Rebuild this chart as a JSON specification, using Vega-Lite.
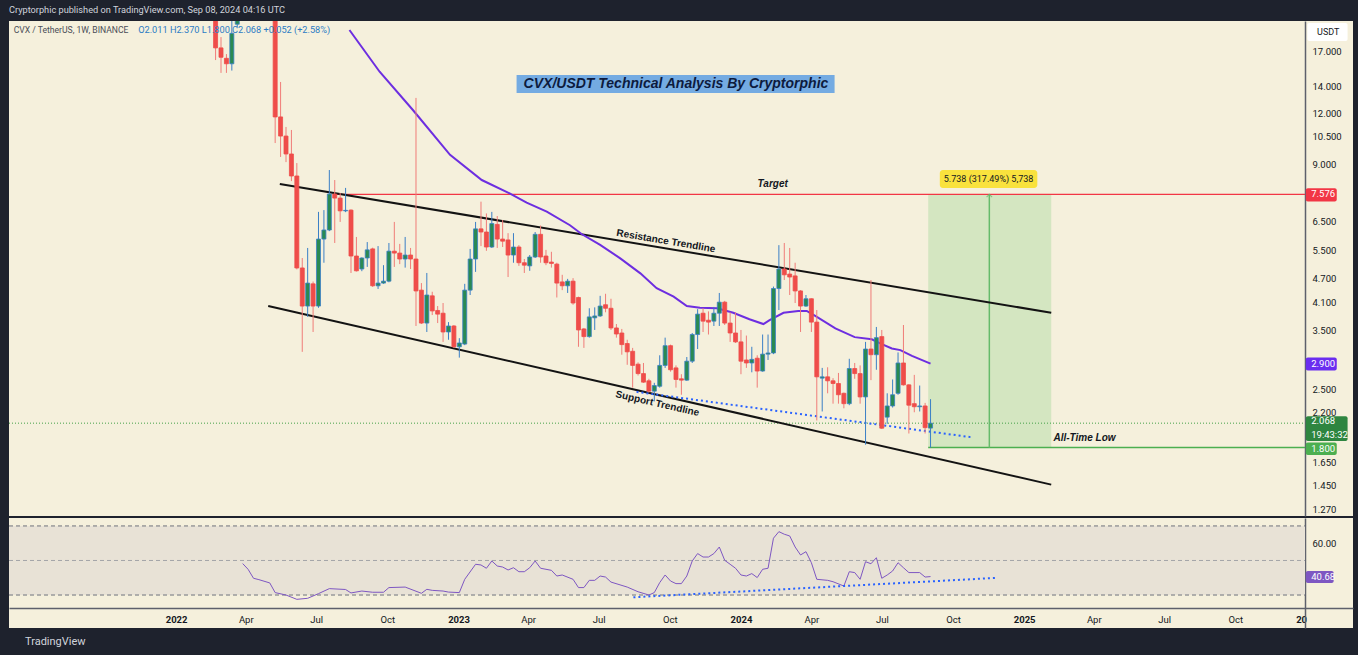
{
"$schema":"https://vega.github.io/schema/vega-lite/v6.json",
"background":"#1e222d",
"padding":{"left":8,"right":6,"top":5,"bottom":8},
"spacing":2,
"title":{"text":"Cryptorphic published on TradingView.com, Sep 08, 2024 04:16 UTC","anchor":"start","frame":"group","fontSize":9.2,"fontWeight":"normal","font":"Roboto","color":"#d1d4dc","offset":6},
"config":{"view":{"stroke":null,"fill":"#f5f0dc"},"font":"Roboto"},
"datasets":{
"candles":[
{"d":"2022-02-21","o":21.5,"h":23,"l":16.24,"c":17.4},
{"d":"2022-02-28","o":17.4,"h":18.5,"l":15.1,"c":16.5},
{"d":"2022-03-07","o":16.4,"h":16.8,"l":15.1,"c":15.9},
{"d":"2022-03-14","o":15.9,"h":20.5,"l":15.3,"c":18.9},
{"d":"2022-03-21","o":19.9,"h":27,"l":19.6,"c":26},
{"d":"2022-03-28","o":26,"h":33,"l":24,"c":31},
{"d":"2022-04-04","o":31,"h":38,"l":29,"c":34},
{"d":"2022-04-11","o":34,"h":36,"l":28,"c":30},
{"d":"2022-04-18","o":30,"h":32,"l":26,"c":28},
{"d":"2022-04-25","o":28,"h":31,"l":25,"c":27},
{"d":"2022-05-02","o":27,"h":29,"l":22,"c":25},
{"d":"2022-05-09","o":25,"h":26,"l":10.14,"c":11.76},
{"d":"2022-05-16","o":11.76,"h":14.34,"l":9.37,"c":10.55},
{"d":"2022-05-23","o":10.55,"h":11.11,"l":9.1,"c":9.53},
{"d":"2022-05-30","o":9.53,"h":10.92,"l":8.17,"c":8.41},
{"d":"2022-06-06","o":8.41,"h":9.05,"l":4.95,"c":4.99},
{"d":"2022-06-13","o":4.99,"h":5.28,"l":3.1,"c":4.02},
{"d":"2022-06-20","o":4.02,"h":5.59,"l":3.78,"c":4.58},
{"d":"2022-06-27","o":4.56,"h":4.62,"l":3.47,"c":4.02},
{"d":"2022-07-04","o":4.02,"h":6.86,"l":3.98,"c":5.88},
{"d":"2022-07-11","o":5.88,"h":6.93,"l":5.14,"c":6.19},
{"d":"2022-07-18","o":6.19,"h":8.7,"l":6.15,"c":7.59},
{"d":"2022-07-25","o":7.59,"h":8.22,"l":5.75,"c":7.42},
{"d":"2022-08-01","o":7.42,"h":7.64,"l":6.48,"c":6.9},
{"d":"2022-08-08","o":6.9,"h":7.86,"l":6.85,"c":6.92},
{"d":"2022-08-15","o":6.93,"h":6.96,"l":4.85,"c":5.34},
{"d":"2022-08-22","o":5.34,"h":5.95,"l":4.89,"c":4.91},
{"d":"2022-08-29","o":4.96,"h":5.3,"l":4.9,"c":5.28},
{"d":"2022-09-05","o":5.28,"h":5.78,"l":5.02,"c":5.53},
{"d":"2022-09-12","o":5.56,"h":5.6,"l":4.48,"c":4.51},
{"d":"2022-09-19","o":4.51,"h":5.65,"l":4.43,"c":4.58},
{"d":"2022-09-26","o":4.58,"h":5.07,"l":4.56,"c":4.63},
{"d":"2022-10-03","o":4.63,"h":5.75,"l":4.6,"c":5.49},
{"d":"2022-10-10","o":5.49,"h":6.48,"l":5.02,"c":5.43},
{"d":"2022-10-17","o":5.43,"h":5.72,"l":5.1,"c":5.25},
{"d":"2022-10-24","o":5.25,"h":5.95,"l":5.0,"c":5.37},
{"d":"2022-10-31","o":5.37,"h":5.59,"l":4.96,"c":5.25},
{"d":"2022-11-07","o":5.25,"h":13.1,"l":3.59,"c":4.38},
{"d":"2022-11-14","o":4.4,"h":4.58,"l":3.63,"c":3.65},
{"d":"2022-11-21","o":3.65,"h":4.85,"l":3.47,"c":4.28},
{"d":"2022-11-28","o":4.26,"h":4.36,"l":3.82,"c":3.91},
{"d":"2022-12-05","o":3.92,"h":4.02,"l":3.65,"c":3.84},
{"d":"2022-12-12","o":3.86,"h":4.09,"l":3.28,"c":3.47},
{"d":"2022-12-19","o":3.47,"h":3.67,"l":3.32,"c":3.59},
{"d":"2022-12-26","o":3.59,"h":3.61,"l":3.17,"c":3.19},
{"d":"2023-01-02","o":3.19,"h":3.35,"l":3.0,"c":3.26},
{"d":"2023-01-09","o":3.24,"h":4.56,"l":3.22,"c":4.4},
{"d":"2023-01-16","o":4.4,"h":5.56,"l":4.28,"c":5.25},
{"d":"2023-01-23","o":5.25,"h":6.48,"l":4.88,"c":6.23},
{"d":"2023-01-30","o":6.23,"h":7.27,"l":5.65,"c":6.12},
{"d":"2023-02-06","o":6.12,"h":6.8,"l":5.5,"c":5.62},
{"d":"2023-02-13","o":5.62,"h":6.86,"l":5.59,"c":6.42},
{"d":"2023-02-20","o":6.39,"h":6.7,"l":5.59,"c":5.88},
{"d":"2023-02-27","o":5.88,"h":6.55,"l":5.62,"c":5.81},
{"d":"2023-03-06","o":5.85,"h":6.08,"l":4.74,"c":5.37},
{"d":"2023-03-13","o":5.37,"h":6.08,"l":5.14,"c":5.62},
{"d":"2023-03-20","o":5.62,"h":5.68,"l":5.05,"c":5.14},
{"d":"2023-03-27","o":5.14,"h":5.25,"l":4.85,"c":5.07},
{"d":"2023-04-03","o":5.05,"h":5.37,"l":4.91,"c":5.31},
{"d":"2023-04-10","o":5.31,"h":6.12,"l":5.28,"c":6.04},
{"d":"2023-04-17","o":6.04,"h":6.35,"l":5.14,"c":5.31},
{"d":"2023-04-24","o":5.34,"h":5.53,"l":5.07,"c":5.14},
{"d":"2023-05-01","o":5.16,"h":5.47,"l":5.0,"c":5.12},
{"d":"2023-05-08","o":5.1,"h":5.14,"l":4.22,"c":4.58},
{"d":"2023-05-15","o":4.61,"h":4.8,"l":4.4,"c":4.51},
{"d":"2023-05-22","o":4.51,"h":4.69,"l":4.33,"c":4.63},
{"d":"2023-05-29","o":4.63,"h":4.71,"l":4.05,"c":4.09},
{"d":"2023-06-05","o":4.22,"h":4.24,"l":3.19,"c":3.51},
{"d":"2023-06-12","o":3.53,"h":3.55,"l":3.17,"c":3.38},
{"d":"2023-06-19","o":3.38,"h":3.97,"l":3.36,"c":3.78},
{"d":"2023-06-26","o":3.76,"h":3.99,"l":3.51,"c":3.8},
{"d":"2023-07-03","o":3.8,"h":4.26,"l":3.78,"c":4.02},
{"d":"2023-07-10","o":4.05,"h":4.31,"l":3.88,"c":3.97},
{"d":"2023-07-17","o":3.97,"h":4.19,"l":3.51,"c":3.55},
{"d":"2023-07-24","o":3.55,"h":3.63,"l":3.36,"c":3.43},
{"d":"2023-07-31","o":3.45,"h":3.53,"l":3.05,"c":3.23},
{"d":"2023-08-07","o":3.25,"h":3.32,"l":2.88,"c":3.1},
{"d":"2023-08-14","o":3.11,"h":3.17,"l":2.53,"c":2.87},
{"d":"2023-08-21","o":2.89,"h":2.92,"l":2.71,"c":2.74},
{"d":"2023-08-28","o":2.74,"h":2.91,"l":2.6,"c":2.61},
{"d":"2023-09-04","o":2.63,"h":2.66,"l":2.46,"c":2.48},
{"d":"2023-09-11","o":2.48,"h":2.6,"l":2.34,"c":2.56},
{"d":"2023-09-18","o":2.55,"h":3.04,"l":2.53,"c":2.87},
{"d":"2023-09-25","o":2.87,"h":3.36,"l":2.83,"c":3.21},
{"d":"2023-10-02","o":3.21,"h":3.23,"l":2.77,"c":2.8},
{"d":"2023-10-09","o":2.83,"h":2.87,"l":2.53,"c":2.65},
{"d":"2023-10-16","o":2.66,"h":2.73,"l":2.43,"c":2.64},
{"d":"2023-10-23","o":2.64,"h":3.01,"l":2.63,"c":2.94},
{"d":"2023-10-30","o":2.94,"h":3.45,"l":2.91,"c":3.42},
{"d":"2023-11-06","o":3.42,"h":3.95,"l":3.15,"c":3.84},
{"d":"2023-11-13","o":3.86,"h":3.97,"l":3.47,"c":3.69},
{"d":"2023-11-20","o":3.71,"h":3.9,"l":3.42,"c":3.67},
{"d":"2023-11-27","o":3.69,"h":4.0,"l":3.59,"c":3.86},
{"d":"2023-12-04","o":3.86,"h":4.33,"l":3.59,"c":4.11},
{"d":"2023-12-11","o":4.11,"h":4.14,"l":3.61,"c":3.65},
{"d":"2023-12-18","o":3.65,"h":3.88,"l":3.28,"c":3.45},
{"d":"2023-12-25","o":3.45,"h":3.88,"l":3.26,"c":3.28},
{"d":"2024-01-01","o":3.28,"h":3.51,"l":2.73,"c":2.94},
{"d":"2024-01-08","o":2.96,"h":3.4,"l":2.83,"c":2.91},
{"d":"2024-01-15","o":2.91,"h":3.19,"l":2.76,"c":2.97},
{"d":"2024-01-22","o":2.99,"h":3.04,"l":2.53,"c":2.78},
{"d":"2024-01-29","o":2.78,"h":3.42,"l":2.77,"c":3.06},
{"d":"2024-02-05","o":3.06,"h":3.42,"l":2.96,"c":3.08},
{"d":"2024-02-12","o":3.08,"h":4.49,"l":3.06,"c":4.44},
{"d":"2024-02-19","o":4.44,"h":5.68,"l":3.93,"c":4.96},
{"d":"2024-02-26","o":4.96,"h":5.75,"l":4.66,"c":4.8},
{"d":"2024-03-04","o":4.82,"h":5.59,"l":4.28,"c":4.74},
{"d":"2024-03-11","o":4.77,"h":5.14,"l":4.09,"c":4.38},
{"d":"2024-03-18","o":4.38,"h":4.4,"l":3.47,"c":4.02},
{"d":"2024-03-25","o":4.02,"h":4.28,"l":4.0,"c":4.19},
{"d":"2024-04-01","o":4.19,"h":4.2,"l":3.47,"c":3.67},
{"d":"2024-04-08","o":3.67,"h":3.93,"l":2.1,"c":2.69},
{"d":"2024-04-15","o":2.67,"h":2.83,"l":2.21,"c":2.69},
{"d":"2024-04-22","o":2.69,"h":2.84,"l":2.45,"c":2.63},
{"d":"2024-04-29","o":2.63,"h":2.67,"l":2.31,"c":2.59},
{"d":"2024-05-06","o":2.59,"h":2.75,"l":2.31,"c":2.43},
{"d":"2024-05-13","o":2.45,"h":2.46,"l":2.25,"c":2.31},
{"d":"2024-05-20","o":2.31,"h":2.98,"l":2.29,"c":2.82},
{"d":"2024-05-27","o":2.82,"h":2.91,"l":2.66,"c":2.74},
{"d":"2024-06-03","o":2.74,"h":2.87,"l":2.31,"c":2.4},
{"d":"2024-06-10","o":2.4,"h":3.28,"l":1.83,"c":3.15},
{"d":"2024-06-17","o":3.15,"h":4.66,"l":2.64,"c":3.05},
{"d":"2024-06-24","o":3.05,"h":3.57,"l":2.8,"c":3.36},
{"d":"2024-07-01","o":3.38,"h":3.51,"l":2.0,"c":2.01},
{"d":"2024-07-08","o":2.14,"h":2.45,"l":2.06,"c":2.28},
{"d":"2024-07-15","o":2.28,"h":2.65,"l":2.26,"c":2.43},
{"d":"2024-07-22","o":2.45,"h":3.09,"l":2.43,"c":2.91},
{"d":"2024-07-29","o":2.91,"h":3.61,"l":2.56,"c":2.57},
{"d":"2024-08-05","o":2.57,"h":2.58,"l":1.95,"c":2.29},
{"d":"2024-08-12","o":2.31,"h":2.72,"l":2.2,"c":2.27},
{"d":"2024-08-19","o":2.27,"h":2.56,"l":2.21,"c":2.28},
{"d":"2024-08-26","o":2.28,"h":2.32,"l":1.95,"c":2.016},
{"d":"2024-09-02","o":2.011,"h":2.37,"l":1.8,"c":2.068}
],
"ma":[
{"d":"2022-08-13","v":19.26},{"d":"2022-09-21","v":15.2},{"d":"2022-11-03","v":12.23},{"d":"2022-12-21","v":9.48},
{"d":"2023-01-31","v":8.22},{"d":"2023-03-08","v":7.62},{"d":"2023-03-30","v":7.23},{"d":"2023-04-25","v":6.87},
{"d":"2023-05-25","v":6.36},{"d":"2023-06-09","v":6.05},{"d":"2023-07-03","v":5.69},{"d":"2023-07-29","v":5.27},
{"d":"2023-08-24","v":4.84},{"d":"2023-09-14","v":4.45},{"d":"2023-10-06","v":4.24},{"d":"2023-10-23","v":4.02},
{"d":"2023-11-09","v":3.98},{"d":"2023-12-01","v":3.97},{"d":"2023-12-22","v":3.87},{"d":"2024-01-12","v":3.73},
{"d":"2024-01-30","v":3.63},{"d":"2024-02-07","v":3.71},{"d":"2024-02-25","v":3.87},{"d":"2024-03-15","v":3.91},
{"d":"2024-03-26","v":3.91},{"d":"2024-04-06","v":3.8},{"d":"2024-05-02","v":3.54},{"d":"2024-05-27","v":3.37},
{"d":"2024-06-18","v":3.33},{"d":"2024-07-01","v":3.24},{"d":"2024-07-14","v":3.16},{"d":"2024-07-25","v":3.13},
{"d":"2024-08-09","v":3.03},{"d":"2024-09-02","v":2.9}
],
"rsi":[
{"d":"2022-03-28","v":48.2},{"d":"2022-04-04","v":44.9},{"d":"2022-04-11","v":39.7},{"d":"2022-04-18","v":38.9},
{"d":"2022-05-02","v":37.0},{"d":"2022-05-09","v":31.4},{"d":"2022-05-23","v":30.0},{"d":"2022-06-06","v":27.5},
{"d":"2022-06-20","v":28.1},{"d":"2022-07-04","v":30.8},{"d":"2022-07-18","v":33.7},{"d":"2022-08-08","v":33.2},
{"d":"2022-08-15","v":31.2},{"d":"2022-08-29","v":32.3},{"d":"2022-09-12","v":31.6},{"d":"2022-09-26","v":31.6},
{"d":"2022-10-03","v":34.3},{"d":"2022-10-24","v":34.6},{"d":"2022-11-14","v":31.0},{"d":"2022-11-21","v":33.3},
{"d":"2022-11-28","v":32.7},{"d":"2022-12-12","v":32.3},{"d":"2022-12-19","v":31.7},{"d":"2023-01-02","v":31.4},
{"d":"2023-01-09","v":39.1},{"d":"2023-01-23","v":47.8},{"d":"2023-01-30","v":47.4},{"d":"2023-02-06","v":45.5},
{"d":"2023-02-13","v":49.7},{"d":"2023-02-20","v":46.8},{"d":"2023-02-27","v":46.2},{"d":"2023-03-06","v":44.5},
{"d":"2023-03-13","v":45.8},{"d":"2023-03-20","v":43.5},{"d":"2023-03-27","v":43.5},{"d":"2023-04-03","v":45.8},
{"d":"2023-04-10","v":49.7},{"d":"2023-04-17","v":45.5},{"d":"2023-05-01","v":44.3},{"d":"2023-05-08","v":41.0},
{"d":"2023-05-15","v":41.6},{"d":"2023-05-29","v":39.1},{"d":"2023-06-05","v":34.3},{"d":"2023-06-12","v":34.3},
{"d":"2023-06-19","v":38.5},{"d":"2023-06-26","v":38.5},{"d":"2023-07-03","v":41.0},{"d":"2023-07-10","v":40.4},
{"d":"2023-07-17","v":37.5},{"d":"2023-08-07","v":34.6},{"d":"2023-08-21","v":31.9},{"d":"2023-09-04","v":30.0},
{"d":"2023-09-11","v":31.4},{"d":"2023-09-18","v":37.2},{"d":"2023-09-25","v":41.6},{"d":"2023-10-02","v":38.1},
{"d":"2023-10-09","v":36.6},{"d":"2023-10-16","v":36.6},{"d":"2023-10-23","v":41.0},{"d":"2023-10-30","v":49.7},
{"d":"2023-11-06","v":54.0},{"d":"2023-11-13","v":52.0},{"d":"2023-11-20","v":52.0},{"d":"2023-11-27","v":54.0},
{"d":"2023-12-04","v":57.8},{"d":"2023-12-11","v":50.1},{"d":"2023-12-18","v":47.8},{"d":"2023-12-25","v":45.5},
{"d":"2024-01-01","v":41.6},{"d":"2024-01-08","v":41.0},{"d":"2024-01-15","v":42.4},{"d":"2024-01-22","v":40.1},
{"d":"2024-01-29","v":44.9},{"d":"2024-02-05","v":45.5},{"d":"2024-02-12","v":62.9},{"d":"2024-02-19","v":66.7},
{"d":"2024-02-26","v":65.2},{"d":"2024-03-04","v":64.2},{"d":"2024-03-11","v":57.8},{"d":"2024-03-18","v":53.2},
{"d":"2024-03-25","v":55.1},{"d":"2024-04-01","v":48.7},{"d":"2024-04-08","v":39.1},{"d":"2024-04-22","v":38.5},
{"d":"2024-04-29","v":37.7},{"d":"2024-05-13","v":35.2},{"d":"2024-05-20","v":43.5},{"d":"2024-05-27","v":43.0},
{"d":"2024-06-03","v":39.1},{"d":"2024-06-10","v":49.3},{"d":"2024-06-17","v":48.1},{"d":"2024-06-24","v":51.6},
{"d":"2024-07-01","v":39.7},{"d":"2024-07-08","v":41.6},{"d":"2024-07-15","v":43.9},{"d":"2024-07-22","v":48.7},
{"d":"2024-07-29","v":45.8},{"d":"2024-08-05","v":43.0},{"d":"2024-08-19","v":43.0},{"d":"2024-08-26","v":40.4},
{"d":"2024-09-02","v":40.68}
]
},
"vconcat":[
{
"width":1344,"height":495,
"resolve":{"axis":{"x":"independent","y":"independent"}},
"layer":[
{"data":{"values":[{"d":"2024-08-30","d2":"2025-02-05","v":1.8,"v2":7.576}]},
 "mark":{"type":"rect","fill":"#d4e6c1"},
 "encoding":{"x":{"field":"d","type":"temporal","scale":{"type":"utc","domain":[{"year":2021,"month":5,"date":30,"utc":true},{"year":2026,"month":3,"date":2,"utc":true}],"nice":false,"padding":0},"axis":null},"x2":{"field":"d2"},
 "y":{"field":"v","type":"quantitative","scale":{"type":"log","domain":[1.221,20.27],"nice":false,"padding":0},"axis":{"orient":"right","offset":-48,"values":[1.27,1.45,1.65,2.2,2.5,3.5,4.1,4.7,5.5,6.5,9,10.5,12,14,17],"format":".3f","title":null,"ticks":false,"grid":false,"domainColor":"#5d606b","domainWidth":1.5,"labelColor":"#131722","labelFontSize":9.5,"labelFont":"Roboto","labelPadding":7,"labelAlign":"left","labelBaseline":"middle","labelOverlap":false,"labelFlush":false}},"y2":{"field":"v2"}}},
{"data":{"values":[{"d":"2023-03-17","d2":"2024-05-01","v":13.47,"v2":14.92}]},
 "mark":{"type":"rect","fill":"#74abe2"},
 "encoding":{"x":{"field":"d","type":"temporal","scale":{"type":"utc","domain":[{"year":2021,"month":5,"date":30,"utc":true},{"year":2026,"month":3,"date":2,"utc":true}],"nice":false,"padding":0},"axis":null},"x2":{"field":"d2"},"y":{"field":"v","type":"quantitative","scale":{"type":"log","domain":[1.221,20.27],"nice":false,"padding":0},"axis":null},"y2":{"field":"v2"}}},
{"data":{"values":[{"d":"2024-09-14","d2":"2025-01-18","v":7.86,"v2":8.7}]},
 "mark":{"type":"rect","fill":"#f9e23d","cornerRadius":3},
 "encoding":{"x":{"field":"d","type":"temporal","scale":{"type":"utc","domain":[{"year":2021,"month":5,"date":30,"utc":true},{"year":2026,"month":3,"date":2,"utc":true}],"nice":false,"padding":0},"axis":null},"x2":{"field":"d2"},"y":{"field":"v","type":"quantitative","scale":{"type":"log","domain":[1.221,20.27],"nice":false,"padding":0},"axis":null},"y2":{"field":"v2"}}},
{"data":{"values":[{"d":"2021-05-30","d2":"2025-12-30","v":2.068}]},
 "mark":{"type":"rule","stroke":"#43a047","strokeDash":[1,2],"strokeWidth":1},
 "encoding":{"x":{"field":"d","type":"temporal","scale":{"type":"utc","domain":[{"year":2021,"month":5,"date":30,"utc":true},{"year":2026,"month":3,"date":2,"utc":true}],"nice":false,"padding":0},"axis":null},"x2":{"field":"d2"},"y":{"field":"v","type":"quantitative","scale":{"type":"log","domain":[1.221,20.27],"nice":false,"padding":0},"axis":null}}},
{"data":{"values":[{"d":"2022-07-25","d2":"2025-12-30","v":7.576}]},
 "mark":{"type":"rule","stroke":"#f23645","strokeWidth":1.2},
 "encoding":{"x":{"field":"d","type":"temporal","scale":{"type":"utc","domain":[{"year":2021,"month":5,"date":30,"utc":true},{"year":2026,"month":3,"date":2,"utc":true}],"nice":false,"padding":0},"axis":null},"x2":{"field":"d2"},"y":{"field":"v","type":"quantitative","scale":{"type":"log","domain":[1.221,20.27],"nice":false,"padding":0},"axis":null}}},
{"data":{"values":[{"d":"2024-08-30","d2":"2025-12-30","v":1.8}]},
 "mark":{"type":"rule","stroke":"#4caf50","strokeWidth":1.5},
 "encoding":{"x":{"field":"d","type":"temporal","scale":{"type":"utc","domain":[{"year":2021,"month":5,"date":30,"utc":true},{"year":2026,"month":3,"date":2,"utc":true}],"nice":false,"padding":0},"axis":null},"x2":{"field":"d2"},"y":{"field":"v","type":"quantitative","scale":{"type":"log","domain":[1.221,20.27],"nice":false,"padding":0},"axis":null}}},
{"data":{"values":[{"d":"2024-11-17","v":1.8,"v2":7.576}]},
 "mark":{"type":"rule","stroke":"#66bb6a","strokeWidth":1.5},
 "encoding":{"x":{"field":"d","type":"temporal","scale":{"type":"utc","domain":[{"year":2021,"month":5,"date":30,"utc":true},{"year":2026,"month":3,"date":2,"utc":true}],"nice":false,"padding":0},"axis":null},"y":{"field":"v","type":"quantitative","scale":{"type":"log","domain":[1.221,20.27],"nice":false,"padding":0},"axis":null},"y2":{"field":"v2"}}},
{"data":{"values":[{"d":"2024-11-17","v":7.576}]},
 "mark":{"type":"point","shape":"M-1,1L0,0L1,1","filled":false,"stroke":"#66bb6a","strokeWidth":1.2,"size":30},
 "encoding":{"x":{"field":"d","type":"temporal","scale":{"type":"utc","domain":[{"year":2021,"month":5,"date":30,"utc":true},{"year":2026,"month":3,"date":2,"utc":true}],"nice":false,"padding":0},"axis":null},"y":{"field":"v","type":"quantitative","scale":{"type":"log","domain":[1.221,20.27],"nice":false,"padding":0},"axis":null}}},
{"data":{"values":[{"d":"2022-05-15","d2":"2025-02-05","v":8.04,"v2":3.87},{"d":"2022-04-30","d2":"2025-02-05","v":4.02,"v2":1.459}]},
 "mark":{"type":"rule","stroke":"#131313","strokeWidth":2},
 "encoding":{"x":{"field":"d","type":"temporal","scale":{"type":"utc","domain":[{"year":2021,"month":5,"date":30,"utc":true},{"year":2026,"month":3,"date":2,"utc":true}],"nice":false,"padding":0},"axis":null},"x2":{"field":"d2"},"y":{"field":"v","type":"quantitative","scale":{"type":"log","domain":[1.221,20.27],"nice":false,"padding":0},"axis":null},"y2":{"field":"v2"}}},
{"data":{"values":[{"d":"2023-08-19","d2":"2024-10-24","v":2.47,"v2":1.91}]},
 "mark":{"type":"rule","stroke":"#2962ff","strokeDash":[2,3],"strokeWidth":2},
 "encoding":{"x":{"field":"d","type":"temporal","scale":{"type":"utc","domain":[{"year":2021,"month":5,"date":30,"utc":true},{"year":2026,"month":3,"date":2,"utc":true}],"nice":false,"padding":0},"axis":null},"x2":{"field":"d2"},"y":{"field":"v","type":"quantitative","scale":{"type":"log","domain":[1.221,20.27],"nice":false,"padding":0},"axis":null},"y2":{"field":"v2"}}},
{"data":{"name":"ma"},
 "mark":{"type":"line","clip":true,"stroke":"#6d2ee0","strokeWidth":2},
 "encoding":{"x":{"field":"d","type":"temporal","scale":{"type":"utc","domain":[{"year":2021,"month":5,"date":30,"utc":true},{"year":2026,"month":3,"date":2,"utc":true}],"nice":false,"padding":0},"axis":null},"y":{"field":"v","type":"quantitative","scale":{"type":"log","domain":[1.221,20.27],"nice":false,"padding":0},"axis":null}}},
{"data":{"name":"candles"},
 "mark":{"type":"rule","clip":true,"strokeWidth":1},
 "encoding":{"x":{"field":"d","type":"temporal","scale":{"type":"utc","domain":[{"year":2021,"month":5,"date":30,"utc":true},{"year":2026,"month":3,"date":2,"utc":true}],"nice":false,"padding":0},"axis":null},"y":{"field":"l","type":"quantitative","scale":{"type":"log","domain":[1.221,20.27],"nice":false,"padding":0},"axis":null},"y2":{"field":"h"},
 "color":{"condition":{"test":"datum.c >= datum.o","value":"#3a7fc6"},"value":"#f07c78"}}},
{"data":{"name":"candles"},
 "mark":{"type":"bar","clip":true,"size":4,"strokeWidth":0.8},
 "encoding":{"x":{"field":"d","type":"temporal","scale":{"type":"utc","domain":[{"year":2021,"month":5,"date":30,"utc":true},{"year":2026,"month":3,"date":2,"utc":true}],"nice":false,"padding":0},"axis":null},"y":{"field":"o","type":"quantitative","scale":{"type":"log","domain":[1.221,20.27],"nice":false,"padding":0},"axis":null},"y2":{"field":"c"},
 "fill":{"condition":{"test":"datum.c >= datum.o","value":"#2a8a52"},"value":"#ef4d4a"},
 "stroke":{"condition":{"test":"datum.c >= datum.o","value":"#3a7fc6"},"value":"#ef4d4a"}}},
{"data":{"values":[{"d":"2024-02-11","v":8.03,"t":"Target"},{"d":"2025-03-20","v":1.9,"t":"All-Time Low"}]},
 "mark":{"type":"text","font":"Liberation Sans","fontSize":10,"fontWeight":"bold","fontStyle":"italic","color":"#131722","align":"center","baseline":"middle"},
 "encoding":{"x":{"field":"d","type":"temporal","scale":{"type":"utc","domain":[{"year":2021,"month":5,"date":30,"utc":true},{"year":2026,"month":3,"date":2,"utc":true}],"nice":false,"padding":0},"axis":null},"y":{"field":"v","type":"quantitative","scale":{"type":"log","domain":[1.221,20.27],"nice":false,"padding":0},"axis":null},"text":{"field":"t"}}},
{"data":{"values":[{"d":"2023-09-26","v":5.81,"t":"Resistance Trendline"}]},
 "mark":{"type":"text","font":"Liberation Sans","fontSize":10,"fontWeight":"bold","color":"#131722","align":"center","baseline":"middle","angle":9.5},
 "encoding":{"x":{"field":"d","type":"temporal","scale":{"type":"utc","domain":[{"year":2021,"month":5,"date":30,"utc":true},{"year":2026,"month":3,"date":2,"utc":true}],"nice":false,"padding":0},"axis":null},"y":{"field":"v","type":"quantitative","scale":{"type":"log","domain":[1.221,20.27],"nice":false,"padding":0},"axis":null},"text":{"field":"t"}}},
{"data":{"values":[{"d":"2023-09-15","v":2.31,"t":"Support Trendline"}]},
 "mark":{"type":"text","font":"Liberation Sans","fontSize":10,"fontWeight":"bold","color":"#131722","align":"center","baseline":"middle","angle":12.8},
 "encoding":{"x":{"field":"d","type":"temporal","scale":{"type":"utc","domain":[{"year":2021,"month":5,"date":30,"utc":true},{"year":2026,"month":3,"date":2,"utc":true}],"nice":false,"padding":0},"axis":null},"y":{"field":"v","type":"quantitative","scale":{"type":"log","domain":[1.221,20.27],"nice":false,"padding":0},"axis":null},"text":{"field":"t"}}},
{"data":{"values":[{"d":"2023-10-09","v":14.2,"t":"CVX/USDT Technical Analysis By Cryptorphic"}]},
 "mark":{"type":"text","font":"Liberation Sans","fontSize":14,"fontWeight":"bold","fontStyle":"italic","color":"#0d1b3e","align":"center","baseline":"middle"},
 "encoding":{"x":{"field":"d","type":"temporal","scale":{"type":"utc","domain":[{"year":2021,"month":5,"date":30,"utc":true},{"year":2026,"month":3,"date":2,"utc":true}],"nice":false,"padding":0},"axis":null},"y":{"field":"v","type":"quantitative","scale":{"type":"log","domain":[1.221,20.27],"nice":false,"padding":0},"axis":null},"text":{"field":"t"}}},
{"data":{"values":[{"d":"2024-11-16","v":8.27,"t":"5.738 (317.49%) 5,738"}]},
 "mark":{"type":"text","font":"Roboto","fontSize":9,"color":"#131722","align":"center","baseline":"middle"},
 "encoding":{"x":{"field":"d","type":"temporal","scale":{"type":"utc","domain":[{"year":2021,"month":5,"date":30,"utc":true},{"year":2026,"month":3,"date":2,"utc":true}],"nice":false,"padding":0},"axis":null},"y":{"field":"v","type":"quantitative","scale":{"type":"log","domain":[1.221,20.27],"nice":false,"padding":0},"axis":null},"text":{"field":"t"}}},
{"data":{"values":[{"d":"2021-06-05","v":19.26,"t":"CVX / TetherUS, 1W, BINANCE"}]},
 "mark":{"type":"text","font":"Roboto","fontSize":8.6,"color":"#4a4d57","align":"left","baseline":"middle"},
 "encoding":{"x":{"field":"d","type":"temporal","scale":{"type":"utc","domain":[{"year":2021,"month":5,"date":30,"utc":true},{"year":2026,"month":3,"date":2,"utc":true}],"nice":false,"padding":0},"axis":null},"y":{"field":"v","type":"quantitative","scale":{"type":"log","domain":[1.221,20.27],"nice":false,"padding":0},"axis":null},"text":{"field":"t"}}},
{"data":{"values":[{"d":"2021-11-13","v":19.26,"t":"O2.011  H2.370  L1.800  C2.068  +0.052 (+2.58%)"}]},
 "mark":{"type":"text","font":"Roboto","fontSize":9.2,"color":"#2b7bc4","align":"left","baseline":"middle"},
 "encoding":{"x":{"field":"d","type":"temporal","scale":{"type":"utc","domain":[{"year":2021,"month":5,"date":30,"utc":true},{"year":2026,"month":3,"date":2,"utc":true}],"nice":false,"padding":0},"axis":null},"y":{"field":"v","type":"quantitative","scale":{"type":"log","domain":[1.221,20.27],"nice":false,"padding":0},"axis":null},"text":{"field":"t"}}},
{"data":{"values":[{"d":"2026-01-02","d2":"2026-02-23","v":18.1,"v2":20.05}]},
 "mark":{"type":"rect","fill":"#ffffff","cornerRadius":2},
 "encoding":{"x":{"field":"d","type":"temporal","scale":{"type":"utc","domain":[{"year":2021,"month":5,"date":30,"utc":true},{"year":2026,"month":3,"date":2,"utc":true}],"nice":false,"padding":0},"axis":null},"x2":{"field":"d2"},"y":{"field":"v","type":"quantitative","scale":{"type":"log","domain":[1.221,20.27],"nice":false,"padding":0},"axis":null},"y2":{"field":"v2"}}},
{"data":{"values":[{"d":"2026-01-29","v":19.04,"t":"USDT"}]},
 "mark":{"type":"text","font":"Roboto","fontSize":9,"color":"#131722","align":"center","baseline":"middle"},
 "encoding":{"x":{"field":"d","type":"temporal","scale":{"type":"utc","domain":[{"year":2021,"month":5,"date":30,"utc":true},{"year":2026,"month":3,"date":2,"utc":true}],"nice":false,"padding":0},"axis":null},"y":{"field":"v","type":"quantitative","scale":{"type":"log","domain":[1.221,20.27],"nice":false,"padding":0},"axis":null},"text":{"field":"t"}}},
{"data":{"values":[{"d":"2025-12-31","d2":"2026-02-09","v":7.28,"v2":7.84}]},
 "mark":{"type":"rect","fill":"#f23645","cornerRadius":2},
 "encoding":{"x":{"field":"d","type":"temporal","scale":{"type":"utc","domain":[{"year":2021,"month":5,"date":30,"utc":true},{"year":2026,"month":3,"date":2,"utc":true}],"nice":false,"padding":0},"axis":null},"x2":{"field":"d2"},"y":{"field":"v","type":"quantitative","scale":{"type":"log","domain":[1.221,20.27],"nice":false,"padding":0},"axis":null},"y2":{"field":"v2"}}},
{"data":{"values":[{"d":"2025-12-31","d2":"2026-02-09","v":2.79,"v2":3.0}]},
 "mark":{"type":"rect","fill":"#6a2df0","cornerRadius":2},
 "encoding":{"x":{"field":"d","type":"temporal","scale":{"type":"utc","domain":[{"year":2021,"month":5,"date":30,"utc":true},{"year":2026,"month":3,"date":2,"utc":true}],"nice":false,"padding":0},"axis":null},"x2":{"field":"d2"},"y":{"field":"v","type":"quantitative","scale":{"type":"log","domain":[1.221,20.27],"nice":false,"padding":0},"axis":null},"y2":{"field":"v2"}}},
{"data":{"values":[{"d":"2025-12-31","d2":"2026-02-23","v":1.87,"v2":2.15}]},
 "mark":{"type":"rect","fill":"#2e8540","cornerRadius":2},
 "encoding":{"x":{"field":"d","type":"temporal","scale":{"type":"utc","domain":[{"year":2021,"month":5,"date":30,"utc":true},{"year":2026,"month":3,"date":2,"utc":true}],"nice":false,"padding":0},"axis":null},"x2":{"field":"d2"},"y":{"field":"v","type":"quantitative","scale":{"type":"log","domain":[1.221,20.27],"nice":false,"padding":0},"axis":null},"y2":{"field":"v2"}}},
{"data":{"values":[{"d":"2025-12-31","d2":"2026-02-09","v":1.726,"v2":1.853}]},
 "mark":{"type":"rect","fill":"#4caf50","cornerRadius":2},
 "encoding":{"x":{"field":"d","type":"temporal","scale":{"type":"utc","domain":[{"year":2021,"month":5,"date":30,"utc":true},{"year":2026,"month":3,"date":2,"utc":true}],"nice":false,"padding":0},"axis":null},"x2":{"field":"d2"},"y":{"field":"v","type":"quantitative","scale":{"type":"log","domain":[1.221,20.27],"nice":false,"padding":0},"axis":null},"y2":{"field":"v2"}}},
{"data":{"values":[{"d":"2026-01-07","v":7.576,"t":"7.576"},{"d":"2026-01-07","v":2.9,"t":"2.900"},{"d":"2026-01-07","v":2.09,"t":"2.068"},{"d":"2026-01-07","v":1.93,"t":"19:43:32"},{"d":"2026-01-07","v":1.79,"t":"1.800"}]},
 "mark":{"type":"text","font":"Roboto","fontSize":9.5,"color":"#ffffff","align":"left","baseline":"middle"},
 "encoding":{"x":{"field":"d","type":"temporal","scale":{"type":"utc","domain":[{"year":2021,"month":5,"date":30,"utc":true},{"year":2026,"month":3,"date":2,"utc":true}],"nice":false,"padding":0},"axis":null},"y":{"field":"v","type":"quantitative","scale":{"type":"log","domain":[1.221,20.27],"nice":false,"padding":0},"axis":null},"text":{"field":"t"}}}
]
},
{
"width":1344,"height":110,
"resolve":{"axis":{"x":"independent","y":"independent"}},
"title":{"text":"TradingView","orient":"bottom","anchor":"start","frame":"group","dx":16,"offset":8,"fontSize":11,"fontWeight":"normal","font":"Roboto","color":"#d1d4dc"},
"layer":[
{"data":{"values":[{"d":"2021-05-30","d2":"2025-12-30","v":30,"v2":70}]},
 "mark":{"type":"rect","fill":"#e8e2d6"},
 "encoding":{"x":{"field":"d","type":"temporal","scale":{"type":"utc","domain":[{"year":2021,"month":5,"date":30,"utc":true},{"year":2026,"month":3,"date":2,"utc":true}],"nice":false,"padding":0},
   "axis":{"orient":"bottom","offset":-20,"tickCount":{"interval":"month","step":3},"labelExpr":"utcyear(datum.value) < 2022 ? '' : (utcmonth(datum.value) == 0 ? (utcyear(datum.value) >= 2026 ? '20' : utcFormat(datum.value, '%Y')) : utcFormat(datum.value, '%b'))","labelFontWeight":{"condition":{"test":"utcmonth(datum.value) == 0","value":"bold"},"value":"normal"},"labelAlign":{"condition":{"test":"utcyear(datum.value) >= 2026","value":"right"},"value":"center"},"title":null,"ticks":false,"grid":false,"domainColor":"#5d606b","domainWidth":1.5,"labelColor":"#131722","labelFontSize":9.5,"labelFont":"Roboto","labelPadding":6,"labelOverlap":false,"labelFlush":false}},
 "x2":{"field":"d2"},
 "y":{"field":"v","type":"quantitative","scale":{"domain":[10.9,74.6],"nice":false,"zero":false,"padding":0},"axis":{"orient":"right","offset":-48,"values":[60],"format":".2f","title":null,"ticks":false,"grid":false,"domainColor":"#5d606b","domainWidth":1.5,"labelColor":"#131722","labelFontSize":9.5,"labelFont":"Roboto","labelPadding":7,"labelAlign":"left","labelBaseline":"middle"}},"y2":{"field":"v2"}}},
{"data":{"values":[{"d":"2021-05-30","d2":"2025-12-30","v":70},{"d":"2021-05-30","d2":"2025-12-30","v":30}]},
 "mark":{"type":"rule","stroke":"#6f727c","strokeDash":[4,3],"strokeWidth":1},
 "encoding":{"x":{"field":"d","type":"temporal","scale":{"type":"utc","domain":[{"year":2021,"month":5,"date":30,"utc":true},{"year":2026,"month":3,"date":2,"utc":true}],"nice":false,"padding":0},"axis":null},"x2":{"field":"d2"},"y":{"field":"v","type":"quantitative","scale":{"domain":[10.9,74.6],"nice":false,"zero":false,"padding":0},"axis":null}}},
{"data":{"values":[{"d":"2021-05-30","d2":"2025-12-30","v":50}]},
 "mark":{"type":"rule","stroke":"#a3a4a8","strokeDash":[4,3],"strokeWidth":1},
 "encoding":{"x":{"field":"d","type":"temporal","scale":{"type":"utc","domain":[{"year":2021,"month":5,"date":30,"utc":true},{"year":2026,"month":3,"date":2,"utc":true}],"nice":false,"padding":0},"axis":null},"x2":{"field":"d2"},"y":{"field":"v","type":"quantitative","scale":{"domain":[10.9,74.6],"nice":false,"zero":false,"padding":0},"axis":null}}},
{"data":{"name":"rsi"},
 "mark":{"type":"line","stroke":"#7e57c2","strokeWidth":1},
 "encoding":{"x":{"field":"d","type":"temporal","scale":{"type":"utc","domain":[{"year":2021,"month":5,"date":30,"utc":true},{"year":2026,"month":3,"date":2,"utc":true}],"nice":false,"padding":0},"axis":null},"y":{"field":"v","type":"quantitative","scale":{"domain":[10.9,74.6],"nice":false,"zero":false,"padding":0},"axis":null}}},
{"data":{"values":[{"d":"2023-08-15","d2":"2024-11-25","v":28.7,"v2":39.9}]},
 "mark":{"type":"rule","stroke":"#2962ff","strokeDash":[2,3],"strokeWidth":2},
 "encoding":{"x":{"field":"d","type":"temporal","scale":{"type":"utc","domain":[{"year":2021,"month":5,"date":30,"utc":true},{"year":2026,"month":3,"date":2,"utc":true}],"nice":false,"padding":0},"axis":null},"x2":{"field":"d2"},"y":{"field":"v","type":"quantitative","scale":{"domain":[10.9,74.6],"nice":false,"zero":false,"padding":0},"axis":null},"y2":{"field":"v2"}}},
{"data":{"values":[{"d":"2025-12-31","d2":"2026-02-05","v":36.96,"v2":43.9}]},
 "mark":{"type":"rect","fill":"#7e57c2","cornerRadius":2},
 "encoding":{"x":{"field":"d","type":"temporal","scale":{"type":"utc","domain":[{"year":2021,"month":5,"date":30,"utc":true},{"year":2026,"month":3,"date":2,"utc":true}],"nice":false,"padding":0},"axis":null},"x2":{"field":"d2"},"y":{"field":"v","type":"quantitative","scale":{"domain":[10.9,74.6],"nice":false,"zero":false,"padding":0},"axis":null},"y2":{"field":"v2"}}},
{"data":{"values":[{"d":"2026-01-07","v":40.4,"t":"40.68"}]},
 "mark":{"type":"text","font":"Roboto","fontSize":9.5,"color":"#ffffff","align":"left","baseline":"middle"},
 "encoding":{"x":{"field":"d","type":"temporal","scale":{"type":"utc","domain":[{"year":2021,"month":5,"date":30,"utc":true},{"year":2026,"month":3,"date":2,"utc":true}],"nice":false,"padding":0},"axis":null},"y":{"field":"v","type":"quantitative","scale":{"domain":[10.9,74.6],"nice":false,"zero":false,"padding":0},"axis":null},"text":{"field":"t"}}}
]
}
]
}
